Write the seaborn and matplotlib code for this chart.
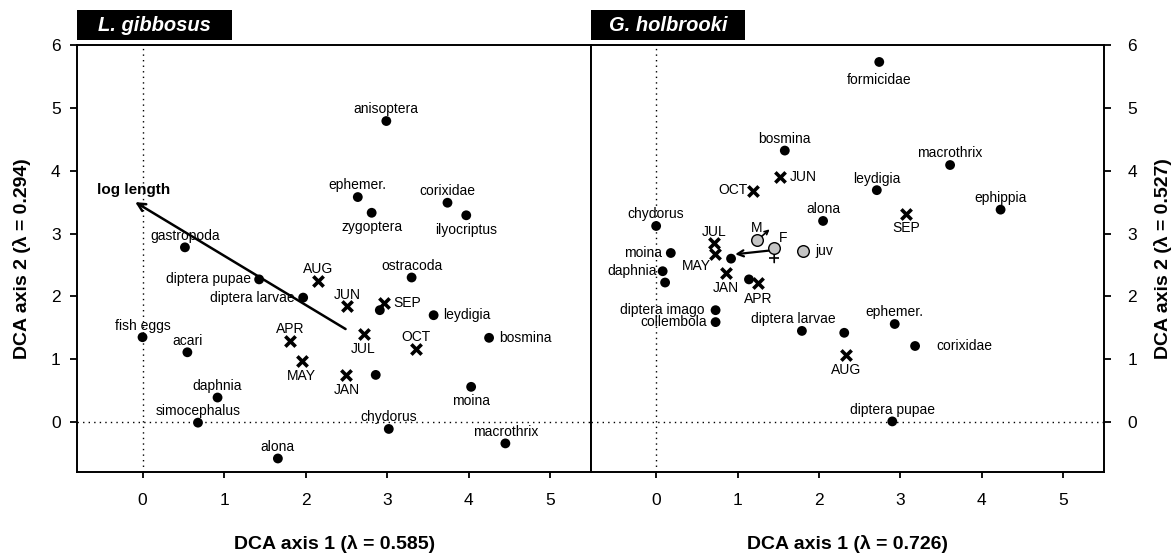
import numpy as np
import pandas as pd
import matplotlib
matplotlib.use("Agg")
import matplotlib.pyplot as plt
import seaborn as sns
from matplotlib.patches import Rectangle
from matplotlib.transforms import offset_copy

sns.set_theme(style="white")
plt.rcParams["font.family"] = ["Liberation Sans", "DejaVu Sans"]
plt.rcParams["text.color"] = "black"
plt.rcParams["axes.labelcolor"] = "black"
plt.rcParams["xtick.color"] = "black"
plt.rcParams["ytick.color"] = "black"

# ---------------- data: L. gibbosus ----------------
lg_taxa = ["anisoptera", "ephemer.", "corixidae", "zygoptera", "ilyocriptus", "gastropoda",
           "diptera pupae", "diptera larvae", "ostracoda", "", "leydigia", "bosmina",
           "fish eggs", "acari", "", "moina", "daphnia", "simocephalus", "chydorus",
           "macrothrix", "alona"]
lg_x = [2.99, 2.64, 3.74, 2.81, 3.97, 0.52, 1.43, 1.97, 3.30, 2.91, 3.57, 4.25,
        0.00, 0.55, 2.86, 4.03, 0.92, 0.68, 3.02, 4.45, 1.66]
lg_y = [4.79, 3.58, 3.49, 3.33, 3.29, 2.78, 2.27, 1.98, 2.30, 1.78, 1.70, 1.34,
        1.35, 1.11, 0.75, 0.56, 0.39, -0.01, -0.11, -0.34, -0.58]
lg_months = ["AUG", "JUN", "SEP", "JUL", "APR", "OCT", "MAY", "JAN"]
lg_mx = [2.15, 2.51, 2.96, 2.71, 1.81, 3.35, 1.95, 2.50]
lg_my = [2.25, 1.84, 1.90, 1.40, 1.29, 1.16, 0.97, 0.75]
lg_vector = "log length"
lg_vec_from = [2.49, 1.48]
lg_vec_to = [-0.09, 3.50]

# ---------------- data: G. holbrooki ----------------
gh_taxa = ["formicidae", "bosmina", "macrothrix", "leydigia", "ephippia", "alona",
           "chydorus", "moina", "daphnia", "", "", "", "diptera imago", "collembola",
           "diptera larvae", "", "ephemer.", "corixidae", "diptera pupae"]
gh_x = [2.74, 1.58, 3.61, 2.71, 4.23, 2.05, 0.00, 0.18, 0.08, 0.11, 0.92, 1.14,
        0.73, 0.73, 1.79, 2.31, 2.93, 3.18, 2.90]
gh_y = [5.73, 4.32, 4.09, 3.69, 3.38, 3.20, 3.12, 2.69, 2.40, 2.22, 2.60, 2.27,
        1.78, 1.59, 1.45, 1.42, 1.56, 1.21, 0.01]
gh_months = ["JUN", "OCT", "SEP", "JUL", "MAY", "JAN", "APR", "AUG"]
gh_mx = [1.52, 1.19, 3.07, 0.71, 0.72, 0.86, 1.25, 2.33]
gh_my = [3.90, 3.68, 3.31, 2.85, 2.67, 2.37, 2.22, 1.06]
gh_groups = ["M", "F", "juv"]
gh_gx = [1.24, 1.45, 1.80]
gh_gy = [2.89, 2.77, 2.72]
gh_vec_from = [1.40, 2.73]
gh_vec_to = [0.97, 2.67]

panel_titles = ["L. gibbosus", "G. holbrooki"]
xlabels = ["DCA axis 1 (\u03bb = 0.585)", "DCA axis 1 (\u03bb = 0.726)"]
ylabels = ["DCA axis 2 (\u03bb = 0.294)", "DCA axis 2 (\u03bb = 0.527)"]
xticks = [0, 1, 2, 3, 4, 5]
yticks = [0, 1, 2, 3, 4, 5, 6]

# ---------------- label placement (style) ----------------
PLACE = {
    "a": (0, 5.5, "center", "baseline"),
    "b": (0, -5.5, "center", "top"),
    "l": (-6, 0, "right", "center"),
    "r": (7, 0, "left", "center"),
}
lg_pos = {"anisoptera": "a", "ephemer.": "a", "corixidae": "a", "zygoptera": "b",
          "ilyocriptus": "b", "gastropoda": "a", "diptera pupae": "l",
          "diptera larvae": "l", "ostracoda": "a", "leydigia": "r", "bosmina": "r",
          "fish eggs": "a", "acari": "a", "moina": "b", "daphnia": "a",
          "simocephalus": "a", "chydorus": "a", "macrothrix": "a", "alona": "a",
          "AUG": "a", "JUN": "a", "SEP": "r", "JUL": "b", "APR": "a", "OCT": "a",
          "MAY": "b", "JAN": "b"}
gh_pos = {"formicidae": (0, -8, "center", "top"), "bosmina": "a", "macrothrix": "a",
          "leydigia": "a", "ephippia": "a", "alona": "a", "chydorus": "a",
          "moina": "l", "daphnia": (-4, 0, "right", "center"),
          "diptera imago": (-8, 0, "right", "center"), "collembola": "l",
          "diptera larvae": (-6, 5.5, "center", "baseline"), "ephemer.": "a",
          "corixidae": (15, 0, "left", "center"), "diptera pupae": "a",
          "JUN": (7, 0, "left", "center"), "OCT": (-4, 0.5, "right", "center"),
          "SEP": (0, -5, "center", "top"), "JUL": (0, 5, "center", "baseline"),
          "MAY": (-3, -8.5, "right", "center"), "JAN": (0, -6, "center", "top"),
          "APR": (0, -7, "center", "top"), "AUG": (0, -5.5, "center", "top"),
          "M": (0, 9, "center", "center"), "F": (3, 7, "left", "center"),
          "juv": (9, 0, "left", "center")}

LABEL_FS = 10
TICK_FS = 12.5
AXLABEL_FS = 14

W, H = 1175, 556
fig = plt.figure(figsize=(W / 100, H / 100), dpi=100)
bottom = 1 - 472.3 / H
height = (472.3 - 45) / H
ax1 = fig.add_axes([77.3 / W, bottom, (591 - 77.3) / W, height])
ax2 = fig.add_axes([591 / W, bottom, (1104 - 591) / W, height])


def label(ax, text, x, y, pos, fs=LABEL_FS, **kw):
    if not text:
        return
    spec = PLACE[pos] if isinstance(pos, str) else pos
    dx, dy, ha, va = spec
    ax.annotate(text, (x, y), xytext=(dx, dy), textcoords="offset points",
                ha=ha, va=va, fontsize=fs, color="black", zorder=6, **kw)


def setup(ax, i):
    ax.set_xlim(-0.8, 5.5)
    ax.set_ylim(-0.8, 6.0)
    ax.axvline(0, color="black", lw=1.0, ls=(0, (1, 3)), zorder=1)
    ax.axhline(0, color="black", lw=1.0, ls=(0, (1, 3)), zorder=1)
    ax.set_xticks(xticks)
    ax.set_yticks(yticks)
    for s in ax.spines.values():
        s.set_visible(True)
        s.set_color("black")
        s.set_linewidth(1.4)
    ax.tick_params(axis="x", direction="out", length=4, width=1.3, pad=11,
                   labelsize=TICK_FS, colors="black", bottom=True)
    ax.tick_params(axis="y", direction="out", length=5, width=1.3, pad=7,
                   labelsize=TICK_FS, colors="black")
    ax.grid(False)
    ax.set_facecolor("white")


# ---------- left panel ----------
lg_df = pd.DataFrame({"x": lg_x, "y": lg_y, "taxon": lg_taxa})
lg_mdf = pd.DataFrame({"x": lg_mx, "y": lg_my, "month": lg_months})
setup(ax1, 0)
ax1.yaxis.tick_left()
ax1.annotate("", xy=tuple(lg_vec_to), xytext=tuple(lg_vec_from),
             arrowprops=dict(arrowstyle="->", lw=1.8, color="black", shrinkA=0,
                             shrinkB=0, mutation_scale=14), zorder=2)
sns.scatterplot(data=lg_df, x="x", y="y", ax=ax1, color="black", s=50,
                edgecolor="none", zorder=4, legend=False)
sns.scatterplot(data=lg_mdf, x="x", y="y", ax=ax1, color="black", marker="x",
                s=55, linewidth=2.6, zorder=5, legend=False)
for t, x, y in zip(lg_taxa, lg_x, lg_y):
    if t:
        label(ax1, t, x, y, lg_pos[t])
for t, x, y in zip(lg_months, lg_mx, lg_my):
    label(ax1, t, x, y, lg_pos[t])
label(ax1, lg_vector, lg_vec_to[0], lg_vec_to[1], (-1, 5.5, "center", "baseline"),
      fs=11, fontweight="bold")
ax1.set_xlabel(xlabels[0], fontsize=AXLABEL_FS, fontweight="bold", va="center",
               color="black")
ax1.xaxis.set_label_coords(0.5, -0.168)
ax1.set_ylabel(ylabels[0], fontsize=AXLABEL_FS, fontweight="bold", va="center",
               rotation=90, color="black")
ax1.yaxis.set_label_coords(-0.1077, 0.5)

# ---------- right panel ----------
gh_df = pd.DataFrame({"x": gh_x, "y": gh_y, "taxon": gh_taxa})
gh_mdf = pd.DataFrame({"x": gh_mx, "y": gh_my, "month": gh_months})
gh_gdf = pd.DataFrame({"x": gh_gx, "y": gh_gy, "group": gh_groups})
setup(ax2, 1)
ax2.yaxis.tick_right()
ax2.yaxis.set_label_position("right")
ax2.tick_params(axis="y", pad=12)
ax2.set_ylabel(ylabels[1], fontsize=AXLABEL_FS, fontweight="bold", va="center",
               rotation=90, color="black")
ax2.yaxis.set_label_coords(1.115, 0.5)
ax2.set_xlabel(xlabels[1], fontsize=AXLABEL_FS, fontweight="bold", va="center",
               color="black")
ax2.xaxis.set_label_coords(0.5, -0.168)

ax2.annotate("", xy=tuple(gh_vec_to), xytext=tuple(gh_vec_from),
             arrowprops=dict(arrowstyle="->", lw=1.6, color="black", shrinkA=0,
                             shrinkB=0, mutation_scale=11), zorder=2)
sns.scatterplot(data=gh_df, x="x", y="y", ax=ax2, color="black", s=50,
                edgecolor="none", zorder=4, legend=False)
sns.scatterplot(data=gh_mdf, x="x", y="y", ax=ax2, color="black", marker="x",
                s=55, linewidth=2.6, zorder=5, legend=False)
# sex symbols: male arrow and female cross attached to the grey circles
mx, my = gh_gx[0], gh_gy[0]
ax2.annotate("", xy=(mx, my), xytext=(9, 8), textcoords="offset points",
             arrowprops=dict(arrowstyle="<-", lw=1.2, color="black", shrinkA=0,
                             shrinkB=3.5, mutation_scale=7), zorder=3)
fx, fy = gh_gx[1], gh_gy[1]
ax2.annotate("", xy=(fx, fy), xytext=(0, -10.5), textcoords="offset points",
             arrowprops=dict(arrowstyle="-", lw=1.2, color="black", shrinkA=0,
                             shrinkB=3.5), zorder=3)
ax2.plot([fx], [fy], marker="_", markersize=7, mew=1.2, color="black",
         transform=offset_copy(ax2.transData, fig=fig, x=0, y=-7.5, units="points"),
         zorder=3)
sns.scatterplot(data=gh_gdf, x="x", y="y", ax=ax2, color="#c4c4c4", s=70,
                edgecolor="black", linewidth=1.0, zorder=5, legend=False)
for t, x, y in zip(gh_taxa, gh_x, gh_y):
    if t:
        label(ax2, t, x, y, gh_pos[t])
for t, x, y in zip(gh_months, gh_mx, gh_my):
    label(ax2, t, x, y, gh_pos[t])
for t, x, y in zip(gh_groups, gh_gx, gh_gy):
    label(ax2, t, x, y, gh_pos[t])

# ---------- panel title boxes ----------
for i, (x0, x1) in enumerate([(77, 232), (591, 745)]):
    fig.patches.append(Rectangle((x0 / W, 1 - 40 / H), (x1 - x0) / W, 30 / H,
                                 transform=fig.transFigure, facecolor="black",
                                 edgecolor="none", zorder=10))
    fig.text((x0 + x1) / 2 / W, 1 - 25.5 / H, panel_titles[i], color="white",
             fontsize=14.5, fontweight="bold", fontstyle="italic", ha="center",
             va="center", zorder=11)

fig.savefig("out.png", dpi=100, facecolor="white")
